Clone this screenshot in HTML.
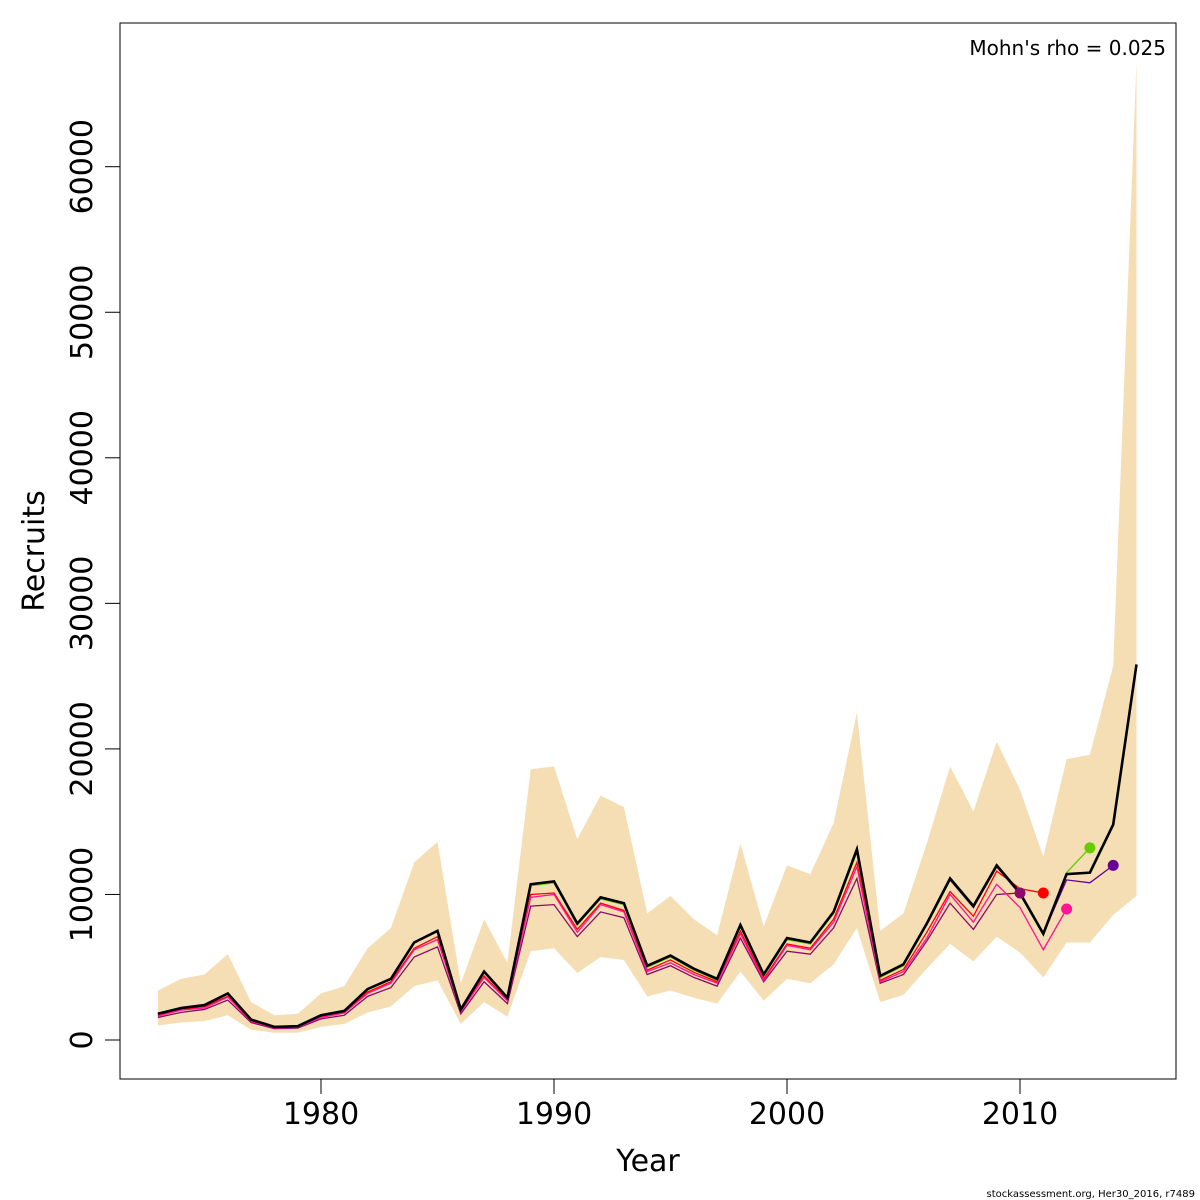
<!DOCTYPE html>
<html><head><meta charset="utf-8"><style>
body{margin:0;background:#fff}
svg{display:block;font-family:"DejaVu Sans","Liberation Sans",sans-serif}
</style></head><body>
<svg id="chart" width="1200" height="1200"></svg>
<script>
const years=[];for(let y=1973;y<=2015;y++)years.push(y);
const estimate=[1800,2200,2400,3200,1400,900,950,1700,2000,3500,4200,6700,7500,2100,4700,2900,10700,10900,8000,9800,9400,5100,5800,4900,4200,7900,4500,7000,6700,8800,13100,4400,5200,8000,11100,9200,12000,10100,7300,11400,11500,14800,25800];
const upper=[3400,4200,4500,5900,2600,1700,1800,3200,3700,6300,7700,12200,13600,3900,8300,5300,18600,18800,13800,16800,16000,8700,9900,8300,7200,13500,7800,12000,11400,14900,22500,7500,8700,13500,18800,15700,20500,17200,12600,19300,19600,25700,67200];
const lower=[1000,1200,1300,1700,700,500,500,900,1100,1900,2300,3700,4100,1100,2600,1600,6100,6300,4600,5700,5500,3000,3400,2900,2500,4700,2700,4200,3900,5200,7700,2600,3100,4900,6600,5400,7100,6000,4300,6700,6700,8600,9900];
const peel1=[1800,2200,2400,3200,1400,900,950,1700,2000,3500,4200,6700,7500,2100,4700,2900,10700,10900,8000,9800,9400,5100,5800,4900,4200,7900,4500,7000,6700,8800,13000,4400,5200,8000,11000,9100,11900,10000,7300,11000,10800,12000];
const peel2=[1800,2200,2400,3200,1400,900,950,1700,2000,3500,4200,6700,7500,2100,4700,2900,10600,10800,7900,9700,9300,5000,5700,4800,4100,7800,4400,6900,6600,8700,12900,4300,5100,7900,11000,9100,11900,10000,7200,11500,13200];
const peel3=[1650,2050,2200,2950,1300,830,880,1550,1850,3200,3900,6200,6900,1950,4300,2700,9800,10000,7400,9300,8800,4700,5300,4500,3900,7300,4100,6500,6200,8100,11900,4000,4700,7000,10000,8100,10700,9100,6200,9000];
const peel4=[1700,2100,2300,3000,1300,850,900,1600,1900,3300,4000,6300,7100,2000,4400,2750,10000,10100,7600,9400,8900,4800,5500,4650,4000,7500,4200,6600,6300,8300,12200,4100,4850,7400,10200,8500,11600,10400,10100];
const peel5=[1550,1900,2100,2750,1200,780,820,1450,1700,3000,3600,5700,6400,1800,4000,2500,9200,9300,7100,8800,8400,4500,5100,4300,3700,7000,4000,6100,5900,7700,11100,3900,4500,6800,9400,7600,10000,10100];
const xTicks=[1980,1990,2000,2010];
const yTicks=[0,10000,20000,30000,40000,50000,60000];

const NS="http://www.w3.org/2000/svg";
const svg=document.getElementById('chart');
const X=v=>321+(v-1980)*23.3;
const Y=v=>1040-v*0.014555;
function mk(t,a,parent){const e=document.createElementNS(NS,t);for(const k in a)e.setAttribute(k,a[k]);(parent||svg).appendChild(e);return e;}

let pts=years.map((y,i)=>X(y)+','+Y(upper[i]));
for(let i=years.length-1;i>=0;i--)pts.push(X(years[i])+','+Y(lower[i]));
const band=mk('polygon',{points:pts.join(' '),fill:'#F5DEB3'});



const peels=[[peel5,'#8B0A6B','retro-2010'],[peel4,'#FF0000','retro-2011'],[peel3,'#FF1493','retro-2012'],[peel2,'#66CC00','retro-2013'],[peel1,'#660099','retro-2014']];
peels.forEach(([arr,c,n])=>{
  const l=mk('polyline',{points:arr.map((v,i)=>X(years[i])+','+Y(v)).join(' '),fill:'none',stroke:c,'stroke-width':1.3});
  
  
});
const main=mk('polyline',{points:estimate.map((v,i)=>X(years[i])+','+Y(v)).join(' '),fill:'none',stroke:'#000','stroke-width':2.6});


peels.forEach(([arr,c,n])=>{
  const k=arr.length-1;
  const d=mk('circle',{cx:X(years[k]),cy:Y(arr[k]),r:5.5,fill:c});
  
  
});

const fr=mk('rect',{x:120,y:23,width:1056,height:1056,fill:'none',stroke:'#000','stroke-width':1});


xTicks.forEach(v=>{
  mk('line',{x1:X(v),x2:X(v),y1:1079,y2:1094,stroke:'#000'});
  const t=mk('text',{x:X(v),y:1124,'font-size':30,'text-anchor':'middle'});
  t.textContent=v;
  
  
});
yTicks.forEach(v=>{
  mk('line',{x1:105,x2:120,y1:Y(v),y2:Y(v),stroke:'#000'});
  const t=mk('text',{x:92,y:Y(v),'font-size':30,'text-anchor':'middle',transform:`rotate(-90 92 ${Y(v)})`});
  t.textContent=v;
  
  
});
let t=mk('text',{x:648,y:1171,'font-size':30,'text-anchor':'middle'});t.textContent='Year';


t=mk('text',{x:44,y:551,'font-size':30,'text-anchor':'middle',transform:'rotate(-90 44 551)'});t.textContent='Recruits';


t=mk('text',{x:1166,y:55,'font-size':20,'text-anchor':'end'});t.textContent="Mohn's rho = 0.025";


t=mk('text',{x:1195,y:1197,'font-size':10,'text-anchor':'end'});t.textContent='stockassessment.org, Her30_2016, r7489';


</script>
</body></html>
